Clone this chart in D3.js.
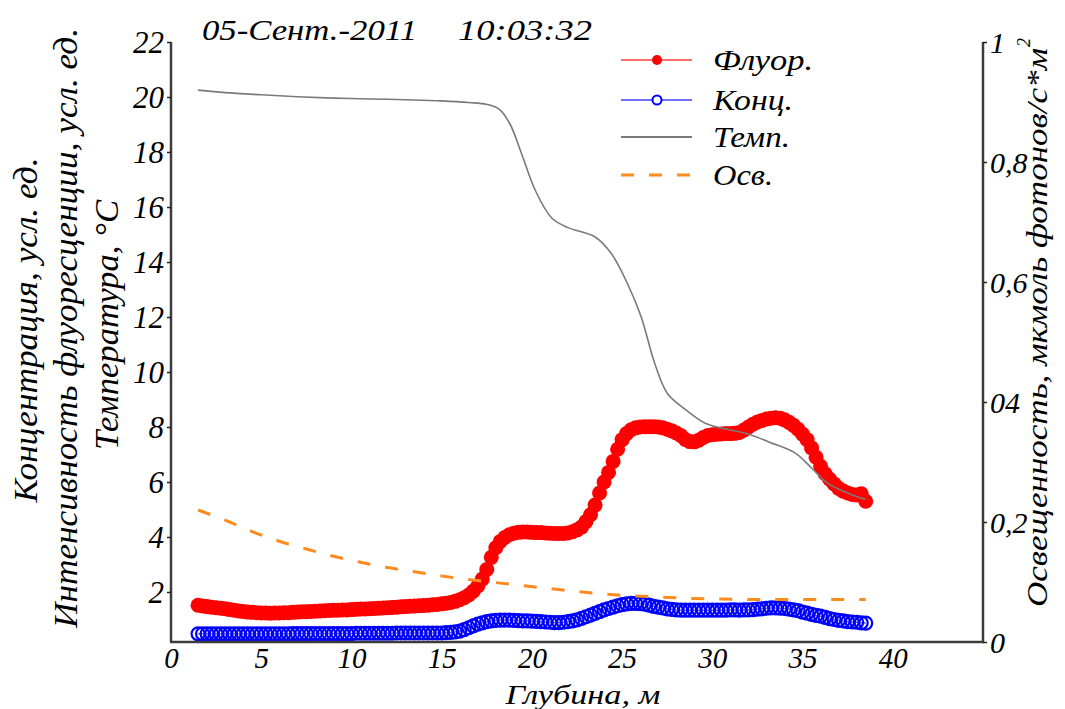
<!DOCTYPE html>
<html><head><meta charset="utf-8">
<script src="https://cdn.jsdelivr.net/npm/d3@7"></script>
<style>
html,body{margin:0;padding:0;background:#fff;}
svg{display:block;}
svg text{font-family:"Liberation Serif","Times New Roman","DejaVu Serif",serif !important;font-style:italic;fill:#000;}
</style></head><body>
<svg id="chart" width="1065" height="709"></svg>
<script>
// ---------- DATA ----------
const depth = [
 1.5,1.75,2,2.25,2.5,2.75,3,3.25,
 3.5,3.75,4,4.25,4.5,4.75,5,5.25,
 5.5,5.75,6,6.25,6.5,6.75,7,7.25,
 7.5,7.75,8,8.25,8.5,8.75,9,9.25,
 9.5,9.75,10,10.25,10.5,10.75,11,11.25,
 11.5,11.75,12,12.25,12.5,12.75,13,13.25,
 13.5,13.75,14,14.25,14.5,14.75,15,15.25,
 15.5,15.75,16,16.25,16.5,16.75,17,17.25,
 17.5,17.75,18,18.25,18.5,18.75,19,19.25,
 19.5,19.75,20,20.25,20.5,20.75,21,21.25,
 21.5,21.75,22,22.25,22.5,22.75,23,23.25,
 23.5,23.75,24,24.25,24.5,24.75,25,25.25,
 25.5,25.75,26,26.25,26.5,26.75,27,27.25,
 27.5,27.75,28,28.25,28.5,28.75,29,29.25,
 29.5,29.75,30,30.25,30.5,30.75,31,31.25,
 31.5,31.75,32,32.25,32.5,32.75,33,33.25,
 33.5,33.75,34,34.25,34.5,34.75,35,35.25,
 35.5,35.75,36,36.25,36.5,36.75,37,37.25,
 37.5,37.75,38,38.25,38.5];

const fluor = [
 1.52,1.49,1.47,1.45,1.43,1.41,1.39,1.36,
 1.34,1.31,1.29,1.27,1.26,1.25,1.24,1.24,
 1.23,1.24,1.24,1.25,1.25,1.26,1.27,1.28,
 1.28,1.29,1.30,1.31,1.32,1.33,1.34,1.34,
 1.35,1.35,1.36,1.37,1.38,1.38,1.39,1.40,
 1.41,1.42,1.43,1.44,1.45,1.46,1.47,1.48,
 1.49,1.50,1.51,1.52,1.54,1.55,1.57,1.59,
 1.62,1.66,1.72,1.79,1.89,2.03,2.22,2.47,
 2.82,3.26,3.61,3.84,3.98,4.08,4.14,4.17,
 4.18,4.18,4.17,4.16,4.16,4.15,4.14,4.13,
 4.13,4.13,4.15,4.19,4.26,4.36,4.56,4.81,
 5.16,5.60,6.00,6.35,6.75,7.19,7.54,7.76,
 7.90,7.97,8.00,8.01,8.01,8.01,8.00,7.97,
 7.92,7.86,7.78,7.69,7.55,7.47,7.46,7.52,
 7.62,7.69,7.72,7.74,7.75,7.76,7.76,7.77,
 7.80,7.89,8.00,8.10,8.18,8.24,8.29,8.32,
 8.34,8.32,8.26,8.17,8.06,7.92,7.74,7.54,
 7.24,6.90,6.57,6.30,6.10,5.93,5.77,5.67,
 5.60,5.55,5.53,5.57,5.30];

const conc = [
 0.48,0.48,0.48,0.48,0.48,0.48,0.48,0.48,
 0.48,0.48,0.48,0.48,0.48,0.48,0.48,0.48,
 0.48,0.48,0.48,0.48,0.48,0.49,0.49,0.49,
 0.49,0.49,0.49,0.49,0.49,0.49,0.49,0.49,
 0.49,0.49,0.49,0.50,0.50,0.50,0.50,0.50,
 0.50,0.50,0.50,0.50,0.51,0.51,0.51,0.51,
 0.51,0.51,0.51,0.51,0.51,0.51,0.51,0.52,
 0.53,0.55,0.58,0.63,0.70,0.77,0.83,0.88,
 0.92,0.95,0.97,0.98,0.98,0.98,0.97,0.96,
 0.95,0.95,0.94,0.93,0.92,0.91,0.90,0.89,
 0.89,0.90,0.92,0.95,0.99,1.04,1.10,1.16,
 1.22,1.29,1.35,1.40,1.45,1.50,1.54,1.57,
 1.59,1.59,1.58,1.56,1.52,1.48,1.45,1.42,
 1.39,1.37,1.35,1.34,1.34,1.34,1.34,1.34,
 1.34,1.34,1.34,1.34,1.34,1.34,1.35,1.35,
 1.34,1.35,1.35,1.36,1.38,1.39,1.41,1.42,
 1.42,1.41,1.40,1.38,1.35,1.32,1.27,1.23,
 1.19,1.15,1.12,1.08,1.03,1.00,0.97,0.95,
 0.92,0.91,0.90,0.88,0.87];

const tempDepth = [1.5,3,5,7,9,11,13,15,16.5,17.5,18.2,18.8,19.4,20.2,21.1,22,23.5,24.4,25.3,26.05,26.8,27.5,28.5,29.6,31,31.8,33.2,34.6,35.5,36.4,37.5,38.5];
const temp = [20.25,20.16,20.08,20.01,19.96,19.93,19.90,19.86,19.80,19.73,19.55,19.00,17.99,16.59,15.60,15.25,14.91,14.31,13.21,12.02,10.33,9.23,8.64,8.14,7.89,7.78,7.44,7.05,6.51,5.95,5.60,5.36];

const lightDepth = [1.5,3,4.5,6,7.5,9,10.5,12,13.5,15,16.5,18,19.5,21,22.5,24,25.5,27,28.5,30,32,34,36,38.5];
const light = [0.22,0.203,0.184,0.168,0.155,0.143,0.133,0.124,0.117,0.110,0.104,0.099,0.094,0.089,0.084,0.080,0.077,0.075,0.073,0.072,0.071,0.071,0.071,0.071];

const xTicks = [0,5,10,15,20,25,30,35,40];
const leftTicks = [2,4,6,8,10,12,14,16,18,20,22];
const rightTicks = [0,0.2,0.4,0.6,0.8,1];
const rightTickLabels = ["0","0,2","04","0,6","0,8","1"];
const legendLabels = ["Флуор.","Конц.","Темп.","Осв."];
const titleDate = "05-Сент.-2011";
const titleTime = "10:03:32";
const xTitle = "Глубина, м";
const leftTitles = ["Концентрация, усл. ед.","Интенсивность флуоресценции, усл. ед.","Температура, °С"];
const rightTitle = "Освещенность, мкмоль фотонов/с*м";

// ---------- DRAW ----------
const FONT = '"Liberation Serif","Times New Roman","DejaVu Serif",serif';
const svg = d3.select("#chart");
const X0 = 171, X1 = 983, YT = 42, YB = 642;
const x = d3.scaleLinear().domain([0,45]).range([X0,X1]);
const yL = d3.scaleLinear().domain([0,22]).range([647,42]);
const yR = d3.scaleLinear().domain([0,1]).range([YB,YT]);

const fl = depth.map((d,i)=>[d,fluor[i]]);
const co = depth.map((d,i)=>[d,conc[i]]);
const te = tempDepth.map((d,i)=>[d,temp[i]]);
const li = lightDepth.map((d,i)=>[d,light[i]]);

const lineL = d3.line().x(d=>x(d[0])).y(d=>yL(d[1]));
const lineLs = d3.line().x(d=>x(d[0])).y(d=>yL(d[1])).curve(d3.curveCatmullRom.alpha(0.5));
const lineR = d3.line().x(d=>x(d[0])).y(d=>yR(d[1])).curve(d3.curveMonotoneX);

const plot = svg.append("g");
plot.append("path").attr("d", lineL(fl)).attr("fill","none").attr("stroke","#ff6060").attr("stroke-width",1.5);
plot.append("g").selectAll("circle").data(fl).join("circle")
  .attr("cx",d=>x(d[0])).attr("cy",d=>yL(d[1])).attr("r",7.5).attr("fill","#ff0000");
plot.append("path").attr("d", lineL(co)).attr("fill","none").attr("stroke","#6060ff").attr("stroke-width",1.5);
plot.append("g").selectAll("circle").data(co).join("circle")
  .attr("cx",d=>x(d[0])).attr("cy",d=>yL(d[1])).attr("r",6.5).attr("fill","none")
  .attr("stroke","#0000ff").attr("stroke-width",2.2);
plot.append("path").attr("d", lineLs(te)).attr("fill","none").attr("stroke","#7a7a7a").attr("stroke-width",1.6);
plot.append("path").attr("d", lineR(li)).attr("fill","none").attr("stroke","#ff8a1e")
  .attr("stroke-width",3).attr("stroke-dasharray","13,15");

const frame = svg.append("g").attr("stroke","#3c3c3c").attr("stroke-width",2.5).attr("fill","none");
frame.append("line").attr("x1",X0).attr("x2",X0).attr("y1",YT).attr("y2",YB);
frame.append("line").attr("x1",X1).attr("x2",X1).attr("y1",YT).attr("y2",YB);
frame.append("line").attr("x1",X0-1).attr("x2",X1+1).attr("y1",YB).attr("y2",YB);

function styleText(sel, size){
  sel.attr("font-family",FONT).style("font-family",FONT).style("font-style","italic").attr("font-size",size);
  return sel;
}

const gl = svg.append("g").attr("transform",`translate(${X0},0)`)
  .call(d3.axisLeft(yL).tickValues(leftTicks).tickSize(4).tickPadding(3).tickFormat(d3.format("d")));
gl.attr("font-family",FONT);
gl.select(".domain").remove();
gl.selectAll("line").attr("stroke","#222").attr("stroke-width",1.5);
styleText(gl.selectAll("text"),31).attr("dy","0.34em");

const gr = svg.append("g").attr("transform",`translate(${X1},0)`)
  .call(d3.axisRight(yR).tickValues(rightTicks).tickSize(4).tickPadding(3).tickFormat((d,i)=>rightTickLabels[i]));
gr.attr("font-family",FONT);
gr.select(".domain").remove();
gr.selectAll("line").attr("stroke","#222").attr("stroke-width",1.5);
styleText(gr.selectAll("text"),30).attr("dy","0.34em");

const gb = svg.append("g").attr("transform",`translate(0,${YB})`)
  .call(d3.axisBottom(x).tickValues(xTicks).tickSize(0).tickPadding(5).tickFormat(d3.format("d")));
gb.attr("font-family",FONT);
gb.select(".domain").remove();
styleText(gb.selectAll("text"),29).attr("dy","0.71em");

styleText(svg.append("text").attr("x",202).attr("y",40)
  .attr("textLength",215).attr("lengthAdjust","spacingAndGlyphs").text(titleDate),29);
styleText(svg.append("text").attr("x",458).attr("y",40)
  .attr("textLength",134).attr("lengthAdjust","spacingAndGlyphs").text(titleTime),29);

styleText(svg.append("text").attr("x",583).attr("y",704).attr("text-anchor","middle")
  .attr("textLength",155).attr("lengthAdjust","spacingAndGlyphs").text(xTitle),28);

const leftPos = [{bx:37,cy:330,len:345},{bx:77,cy:328,len:600},{bx:118,cy:325,len:250}];
leftTitles.forEach((t,i)=>{
  const p = leftPos[i];
  styleText(svg.append("text").attr("transform",`translate(${p.bx},${p.cy}) rotate(-90)`)
    .attr("text-anchor","middle")
    .attr("textLength",p.len).attr("lengthAdjust","spacingAndGlyphs").text(t),33);
});
styleText(svg.append("text").attr("transform","translate(1047,607) rotate(-90)")
  .attr("textLength",559).attr("lengthAdjust","spacingAndGlyphs").text(rightTitle),29);
styleText(svg.append("text").attr("transform","translate(1030,47) rotate(-90)").text("2"),18);

const legY = [60,100,137,175];
const leg = svg.append("g");
const lx0 = 621, lx1 = 692, lm = 657;
leg.append("line").attr("x1",lx0).attr("x2",lx1).attr("y1",legY[0]).attr("y2",legY[0]).attr("stroke","#ff7070").attr("stroke-width",2);
leg.append("circle").attr("cx",lm).attr("cy",legY[0]).attr("r",5).attr("fill","#ff0000");
leg.append("line").attr("x1",lx0).attr("x2",lx1).attr("y1",legY[1]).attr("y2",legY[1]).attr("stroke","#7070ff").attr("stroke-width",2);
leg.append("circle").attr("cx",lm).attr("cy",legY[1]).attr("r",4.5).attr("fill","#fff").attr("stroke","#0000ff").attr("stroke-width",2);
leg.append("line").attr("x1",lx0).attr("x2",lx1).attr("y1",legY[2]).attr("y2",legY[2]).attr("stroke","#7a7a7a").attr("stroke-width",2);
leg.append("line").attr("x1",lx0).attr("x2",lx1).attr("y1",legY[3]).attr("y2",legY[3]).attr("stroke","#ff8a1e").attr("stroke-width",3).attr("stroke-dasharray","13,15");
const legLen = [100,80,77,60];
legendLabels.forEach((t,i)=>{
  styleText(leg.append("text").attr("x",713).attr("y",legY[i]+10)
    .attr("textLength",legLen[i]).attr("lengthAdjust","spacingAndGlyphs").text(t),29);
});
</script>
</body></html>
